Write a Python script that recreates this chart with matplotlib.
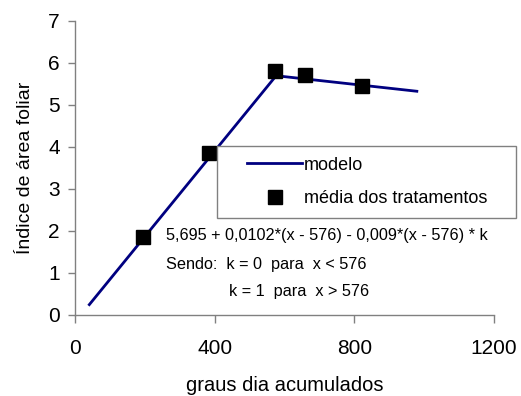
import matplotlib
matplotlib.use("Agg")
import matplotlib.pyplot as plt
from matplotlib.lines import Line2D
from matplotlib.legend_handler import HandlerLine2D

plt.rcParams['font.family'] = ['Liberation Sans', 'DejaVu Sans']

# data
model_x = [41, 576, 979]
model_y = [0.24, 5.69, 5.32]
mean_x = [195, 384, 574, 659, 823]
mean_y = [1.84, 3.86, 5.81, 5.70, 5.45]
xticks = [0, 400, 800, 1200]
yticks = [0, 1, 2, 3, 4, 5, 6, 7]

W, H = 521, 396
fig = plt.figure(figsize=(W/100, H/100), dpi=100)
ax = fig.add_axes([75/W, 1-314.7/H, 419/W, 294/H])

navy = '#000080'
ax.plot(model_x, model_y, color=navy, lw=2, zorder=2)
ax.plot(mean_x, mean_y, ls='none', marker='s', ms=10.5, color='black', zorder=3)

ax.set_xlim(0, 1200)
ax.set_ylim(0, 7)
ax.set_xticks(xticks)
ax.set_yticks(yticks)
for s in ['top', 'right']:
    ax.spines[s].set_visible(False)
for s in ['left', 'bottom']:
    ax.spines[s].set_color('#808080')
    ax.spines[s].set_linewidth(1)
ax.tick_params(axis='both', direction='out', width=1, color='#808080',
               labelsize=15)
ax.tick_params(axis='x', length=5.8, pad=12)
ax.tick_params(axis='y', length=5, pad=6)

ax.set_xlabel('graus dia acumulados', fontsize=14.5, labelpad=12.5)
ax.set_ylabel('Índice de área foliar', fontsize=14, labelpad=10)

handles = [Line2D([], [], color=navy, lw=2),
           Line2D([], [], ls='none', marker='s', ms=10.5, color='black')]
hmap = {h: HandlerLine2D(xpad=1.1) for h in handles}
leg = ax.legend(handles, ['modelo', 'média dos tratamentos'],
                loc='upper left', bbox_to_anchor=(0.338, 0.346, 0.715, 0.228),
                mode='expand', fontsize=13, frameon=True, fancybox=False,
                framealpha=1, handlelength=4.15, handletextpad=0.1,
                labelspacing=0.9, borderpad=0.6, borderaxespad=0,
                handler_map=hmap)
leg.get_frame().set_edgecolor('#808080')
leg.get_frame().set_linewidth(1)
leg.set_clip_on(False)


def px(x, y):
    return (x / W, 1 - y / H)


fs = 11.7
fig.text(*px(166, 236), '5,695 + 0,0102*(x - 576) - 0,009*(x - 576) * k',
         fontsize=fs, va='center', ha='left')
fig.text(*px(166, 265), 'Sendo:  k = 0  para  x < 576', fontsize=fs,
         va='center', ha='left')
fig.text(*px(229, 291.7), 'k = 1  para  x > 576', fontsize=fs,
         va='center', ha='left')

fig.savefig('out.png', dpi=100)
